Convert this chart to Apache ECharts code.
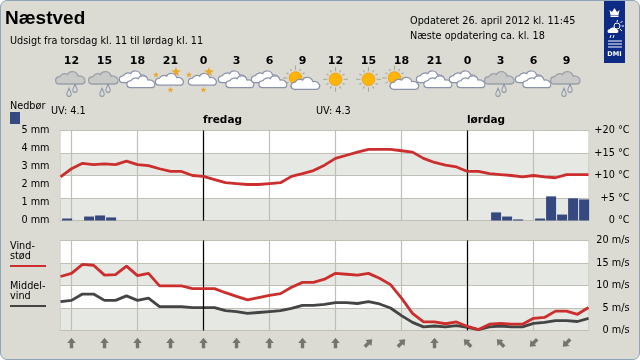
<!DOCTYPE html>
<html><head><meta charset="utf-8">
<script src="https://cdn.jsdelivr.net/npm/echarts@6/dist/echarts.min.js"></script>
<style>
html,body{margin:0;padding:0;background:#fff;overflow:hidden}
#frame{position:absolute;left:0;top:0;width:640px;height:360px;box-sizing:border-box;background:#dbdbd3;border:1.5px solid #8fa5bc;border-radius:7px}
#c{position:absolute;left:0;top:0;width:640px;height:360px}
</style></head><body>
<div id="frame"></div><div id="c"></div>
<script>
const hours = [11,12,13,14,15,16,17,18,19,20,21,22,23,24,25,26,27,28,29,30,31,32,33,34,35,36,37,38,39,40,41,42,43,44,45,46,47,48,49,50,51,52,53,54,55,56,57,58,59];
const temperature = [9.7,11.5,12.7,12.4,12.6,12.4,13.2,12.4,12.2,11.5,10.9,10.9,10,9.8,9.1,8.4,8.2,8,8,8.2,8.4,9.8,10.4,11.1,12.3,13.8,14.5,15.2,15.8,15.8,15.8,15.5,15.2,13.8,12.9,12.3,11.9,10.9,10.9,10.4,10.2,10,9.7,10,9.7,9.5,10.2,10.2,10.2];
const gust = [12,12.7,14.7,14.5,12.3,12.4,14.3,12.2,12.7,9.9,9.9,9.9,9.3,9.3,9.3,8.4,7.6,6.8,7.3,7.8,8.2,9.6,10.7,10.7,11.4,12.7,12.5,12.3,12.7,11.6,10.2,7.2,3.8,1.9,1.9,1.5,1.9,0.9,0.2,1.4,1.6,1.4,1.4,2.7,2.9,4.3,4.3,3.6,5.1];
const meanWind = [6.4,6.7,8.1,8.1,6.7,6.7,7.7,6.7,7.2,5.3,5.3,5.3,5.1,5.1,5.1,4.4,4.2,3.8,4,4.2,4.4,4.9,5.6,5.6,5.8,6.2,6.2,6,6.4,5.9,5,3.3,1.8,0.8,1,0.8,1.1,0.7,0.2,0.8,1,0.8,0.8,1.6,1.8,2.2,2.2,2,2.7];
const rainHours = [11,13,14,15,50,51,52,54,55,56,57,58];
const rainMm = [0.11,0.22,0.28,0.17,0.45,0.22,0.06,0.11,1.34,0.33,1.23,1.17];
const forecastHours = [12,15,18,21,24,27,30,33,36,39,42,45,48,51,54,57];
const forecastIcons = ['rain','rain','cloud','night','night','cloud','cloud','suncloud','sun','sun','suncloud','cloud','cloud','rain','cloud','rain'];
const windDirs = ['N','N','N','N','N','N','N','N','N','NE','NE','N','NW','NW','SW','SW'];
const gridHours = [12,18,24,30,36,42,48,54];
const dayHours = [24,48];

const dirAngle = {N:0, NE:-45, NW:45, SW:135};
const FONT = '"DejaVu Sans"';
const GL = '#bfbfb6';
const FS = 9.7;
const CLOUD = 'M-11 6C-16 6 -16.5 -1 -10.5 -1.5C-9 -4.5 -5 -5 -3 -3.5C-1 -7.5 6 -7.5 7.5 -2C12 -3 15.5 1 14.5 3.5C14 5.5 13 6 11 6Z';
function star(cx,cy,r){let p=[];for(let i=0;i<10;i++){const a=-Math.PI/2+i*Math.PI/5,q=i%2?r*0.42:r;p.push([cx+q*Math.cos(a),cy+q*Math.sin(a)]);}
  return {type:'polygon',shape:{points:p},style:{fill:'#f2a81d',stroke:'#d8961a',lineWidth:0.3}};}
function cloud(dx,dy,fill,stroke,s){return {type:'path',x:dx,y:dy,scaleX:s||1,scaleY:s||1,shape:{pathData:CLOUD},style:{fill:fill,stroke:stroke,lineWidth:1.3}};}
function drop(dx,dy){return {type:'path',x:dx,y:dy,scaleX:1.1,scaleY:1.2,shape:{pathData:'M0 -3.5C1 -1 2 0 2 1.2A2 2 0 0 1 -2 1.2C-2 0 -1 -1 0 -3.5Z'},style:{fill:'#dbdbd3',stroke:'#8a97ab',lineWidth:0.9}};}
function sun(dx,dy){const kids=[];for(let i=0;i<12;i++){const a=i*Math.PI/6,r2=i%3===0?12.5:10.5;kids.push({type:'line',shape:{x1:dx+8*Math.cos(a),y1:dy+8*Math.sin(a),x2:dx+r2*Math.cos(a),y2:dy+r2*Math.sin(a)},style:{stroke:'#a9a99c',lineWidth:1.1}});}
  kids.push({type:'circle',shape:{cx:dx,cy:dy,r:6.3},style:{fill:'#ffb400',stroke:'#e89c10',lineWidth:0.8}});return kids;}
function iconKids(t){
  const W='#ffffff',S='#8b93ab';
  if(t==='rain')return [cloud(-1,0,'#c9c9c7','#9aa0aa'),drop(-2.5,14.5),drop(3.5,10.5)];
  if(t==='cloud')return [cloud(-4,-1,W,S,0.95),cloud(3.5,4,W,S,0.95)];
  if(t==='night')return [star(5.5,-6,4.5),star(-14.5,-3,2.6),star(0,12,2.6),cloud(-1,1.5,W,S,0.95)];
  if(t==='suncloud')return [...sun(-7,0),cloud(3,5.5,W,S,0.97)];
  return sun(0,1.3);
}
const LOGO='#0d2b85';
const logoKids=[
  {type:'rect',shape:{x:604,y:1,width:21,height:62},style:{fill:LOGO}},
  {type:'path',x:614.5,y:12,shape:{pathData:'M-5 -2L-2.5 0L0 -4L2.5 0L5 -2L4 3L-4 3ZM-4 3.5L4 3.5L4 5L-4 5Z'},style:{fill:'#fff'}},
  {type:'circle',shape:{cx:617,cy:26,r:3},style:{fill:LOGO,stroke:'#fff',lineWidth:1}},
  {type:'path',x:614,y:31,shape:{pathData:'M-5 2C-7 2 -7 -2 -4 -2C-3 -4 1 -4 2 -2C5 -2 5 2 3 2Z'},style:{fill:'#fff'}},
  {type:'path',shape:{pathData:'M611 35L610 38M614 35L613 38M617 22L617.5 20M620.5 23L622.5 21M621.5 26L624 26M620 29L622 31'},style:{stroke:'#fff',lineWidth:1}},
  {type:'path',shape:{pathData:'M608 41L622 41M608 44L622 44M608 47L622 47'},style:{stroke:'#fff',lineWidth:1}},
  {type:'text',x:614.5,y:54.5,style:{text:'DMI',font:'bold 6.5px '+FONT,fill:'#fff',align:'center',verticalAlign:'middle'}}
];
const TX=(text,x,y,font,o)=>({type:'text',x:x,y:y,style:Object.assign({text:text,font:font,fill:'#000',verticalAlign:'middle'},o||{}),silent:true});
const f9=FS+'px '+FONT;
const graphics=[
  TX('Næstved',5,19,'bold 19px "Liberation Sans"'),
  TX('Udsigt fra torsdag kl. 11 til lørdag kl. 11',10,41,f9),
  TX('Opdateret 26. april 2012 kl. 11:45',410,21,f9),
  TX('Næste opdatering ca. kl. 18',410,36,f9),
  TX('Nedbør',10,106,f9),
  {type:'rect',shape:{x:10,y:112,width:10,height:12},style:{fill:'#35487f'}},
  TX('UV: 4.1',51,111,f9),
  TX('UV: 4.3',316,111,f9),
  TX('fredag',203,120,'bold 10.5px '+FONT),
  TX('lørdag',467,120,'bold 10.5px '+FONT),
  TX('Vind-',10,246,f9), TX('stød',10,256,f9),
  {type:'line',shape:{x1:10,y1:266,x2:46,y2:266},style:{stroke:'#cc2e2e',lineWidth:2}},
  TX('Middel-',10,286,f9), TX('vind',10,296,f9),
  {type:'line',shape:{x1:10,y1:306,x2:46,y2:306},style:{stroke:'#444',lineWidth:2}}
];
const commonX=(i)=>({type:'value',gridIndex:i,min:11,max:59,axisLine:{show:false},axisLabel:{show:false},
  axisTick:{show:false,customValues:gridHours},splitLine:{show:true,lineStyle:{color:GL,width:1.2}}});
const rightLabel=(fmt)=>({align:'right',margin:41,color:'#000',fontFamily:FONT,fontSize:FS,padding:[1,0,0,0],formatter:fmt});
const grid=(top,h)=>({left:60.5,width:528,top:top,height:h,show:true,borderColor:GL,borderWidth:1.2,backgroundColor:'transparent'});
const dayLine={silent:true,symbol:'none',label:{show:false},lineStyle:{color:'#000',width:1.2,type:'solid'},data:dayHours.map(h=>({xAxis:h}))};
const option={
  animation:false,
  backgroundColor:'transparent',
  graphic:{elements:graphics},
  grid:[grid(130.5,90),grid(240.5,90),
    {left:60.5,width:528,top:65,height:30},{left:60.5,width:528,top:333,height:20}],
  xAxis:[commonX(0),commonX(1),
    {type:'value',gridIndex:2,min:11,max:59,position:'top',axisLine:{show:false},splitLine:{show:false},
     axisTick:{show:false,customValues:forecastHours},
     axisLabel:{customValues:forecastHours,margin:-2,color:'#000',fontFamily:FONT,fontWeight:'bold',fontSize:11,formatter:v=>String(v%24)}},
    {type:'value',gridIndex:3,min:11,max:59,show:false}],
  yAxis:[
    {type:'value',gridIndex:0,min:0,max:5,interval:1,position:'left',axisLine:{show:false},axisTick:{show:false},splitLine:{show:false},
     axisLabel:{margin:11,color:'#000',fontFamily:FONT,fontSize:FS,padding:[2,0,0,0],formatter:'{value} mm'}},
    {type:'value',gridIndex:0,min:0,max:20,interval:5,position:'right',axisLine:{show:false},axisTick:{show:false},
     axisLabel:rightLabel(v=>v===0?'0 °C':'+'+v+' °C'),
     splitLine:{show:true,lineStyle:{color:GL,width:1.2}},splitArea:{show:true,areaStyle:{color:['#e6e8e3','#ffffff']}}},
    {type:'value',gridIndex:1,min:0,max:20,interval:5,position:'right',axisLine:{show:false},axisTick:{show:false},
     axisLabel:rightLabel('{value} m/s'),
     splitLine:{show:true,lineStyle:{color:GL,width:1.2}},splitArea:{show:true,areaStyle:{color:['#e6e8e3','#ffffff']}}},
    {type:'value',gridIndex:2,min:0,max:1,show:false},
    {type:'value',gridIndex:3,min:0,max:1,show:false}
  ],
  series:[
    {type:'bar',name:'Nedbør',xAxisIndex:0,yAxisIndex:0,barWidth:10,itemStyle:{color:'#35487f'},z:3,
     data:rainHours.map((h,i)=>[h+0.6,rainMm[i]])},
    {type:'line',name:'Temperatur',xAxisIndex:0,yAxisIndex:1,showSymbol:false,symbol:'none',z:5,
     lineStyle:{color:'#cc2e2e',width:2.8},data:hours.map((h,i)=>[h,temperature[i]]),markLine:dayLine},
    {type:'line',name:'Middelvind',xAxisIndex:1,yAxisIndex:2,showSymbol:false,symbol:'none',z:4,
     lineStyle:{color:'#444444',width:2.8},data:hours.map((h,i)=>[h,meanWind[i]]),markLine:dayLine},
    {type:'line',name:'Vindstød',xAxisIndex:1,yAxisIndex:2,showSymbol:false,symbol:'none',z:5,clip:false,
     lineStyle:{color:'#cc2e2e',width:2.8},data:hours.map((h,i)=>[h,gust[i]])},
    {type:'custom',name:'Vejr',xAxisIndex:2,yAxisIndex:3,clip:false,z:3,silent:true,
     data:forecastHours.map((h,i)=>[h,0.5,i]),
     renderItem:(p,api)=>{const c=api.coord([api.value(0),api.value(1)]);
       return {type:'group',x:c[0],y:c[1]-2,children:iconKids(forecastIcons[api.value(2)])};}},
    {type:'custom',name:'DMI',xAxisIndex:3,yAxisIndex:4,clip:false,silent:true,data:[[11,0]],
     renderItem:()=>({type:'group',children:logoKids})},
    {type:'scatter',name:'Vindretning',xAxisIndex:3,yAxisIndex:4,silent:true,
     symbol:'path://M5 0L10 5.5L7 5.5L7 11L3 11L3 5.5L0 5.5Z',symbolSize:[8.5,10.5],itemStyle:{color:'#5b5b58'},
     data:forecastHours.map((h,i)=>({value:[h,0.5],symbolRotate:dirAngle[windDirs[i]]}))}
  ]
};
echarts.init(document.getElementById('c'),null,{renderer:'canvas'}).setOption(option);
</script></body></html>
